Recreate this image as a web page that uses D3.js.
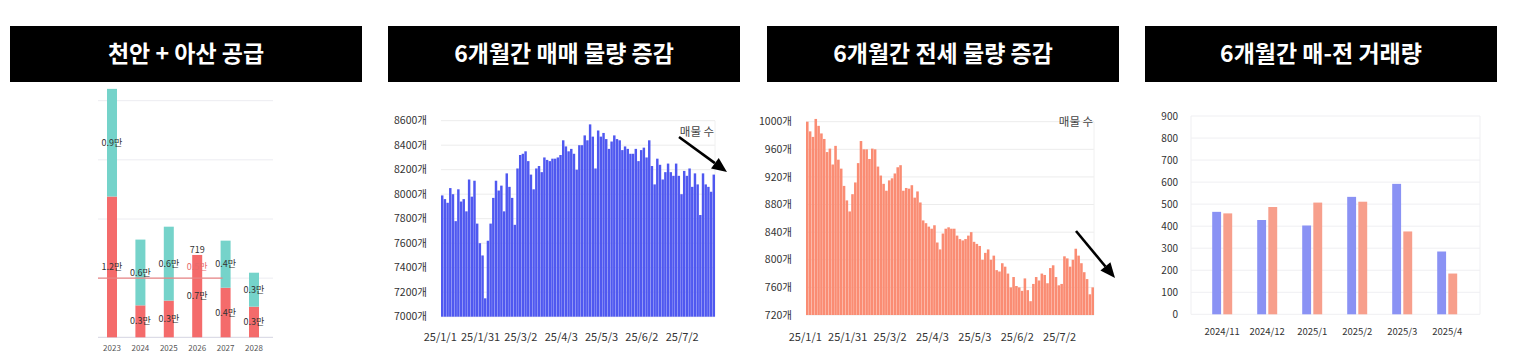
<!DOCTYPE html>
<html><head><meta charset="utf-8">
<script src="https://cdn.jsdelivr.net/npm/d3@7"></script>
<style>body{margin:0;background:#fff}svg{display:block}text{font-family:"Noto Sans CJK KR","Noto Sans",sans-serif}</style>
</head><body><svg id="c" width="1520" height="356"></svg>
<script>
// ---------- DATA ----------
const titles = ["천안 + 아산 공급", "6개월간 매매 물량 증감", "6개월간 전세 물량 증감", "6개월간 매-전 거래량"];

const supplyYears = ["2023", "2024", "2025", "2026", "2027", "2028"];
const supplyRed = [11900, 2700, 3100, 6960, 4190, 2590];
const supplyTeal = [9100, 5560, 6250, 0, 3980, 2870];
const supplyNotes = ["", "", "", "719", "", ""];
const supplyRefLine = 5000;

const dateTickIndex = [0, 15, 30, 45, 60, 75, 90];
const dateTickLabels = ["25/1/1", "25/1/31", "25/3/2", "25/4/3", "25/5/3", "25/6/2", "25/7/2"];
const saleListings = [7990, 7960, 7930, 8050, 8000, 7780, 8040, 7940, 7960, 7860, 8120, 7980, 8110, 7760, 7600, 7500, 7150, 7620, 7760, 7970, 8110, 8030, 8070, 7860, 8170, 8060, 7970, 7750, 8210, 8320, 8330, 8350, 8270, 8160, 8040, 8210, 8230, 8180, 8300, 8280, 8270, 8290, 8290, 8300, 8320, 8440, 8390, 8350, 8370, 8330, 8200,
  8400, 8400, 8480, 8440, 8570, 8470, 8210, 8520, 8470, 8500, 8450, 8370, 8430, 8480, 8450, 8440, 8360, 8390, 8370, 8330, 8330, 8370, 8270, 8360, 8380, 8300, 8440, 8230, 8080, 8290, 8240, 8120, 8180, 8250, 8180, 8150, 8250, 8150, 8000, 8190, 8150, 8210, 8060, 8170, 8080, 7830, 8170, 8080, 8060, 8020, 8160];
const rentListings = [1000, 986, 978, 1004, 994, 983, 975, 956, 961, 938, 965, 945, 932, 907, 886, 870, 895, 912, 940, 972, 960, 960, 946, 961, 960, 935, 922, 910, 900, 915, 918, 925, 934, 937, 900, 904, 903, 908, 890, 899, 883, 857, 853, 848, 845, 850, 825, 815, 838, 845, 847,
  845, 845, 835, 830, 828, 830, 835, 840, 826, 823, 820, 800, 810, 815, 800, 806, 785, 783, 795, 790, 780, 760, 775, 762, 760, 755, 773, 756, 740, 765, 775, 770, 780, 778, 766, 788, 792, 775, 763, 765, 805, 802, 790, 800, 816, 806, 795, 782, 772, 750, 760];
const saleTicks = [7000, 8600, 200];
const rentTicks = [720, 1000, 40];
const annotationText = "매물 수";

const tradeMonths = ["2024/11", "2024/12", "2025/1", "2025/2", "2025/3", "2025/4"];
const tradeSale = [465, 428, 403, 533, 592, 285];
const tradeRent = [458, 487, 507, 511, 376, 185];
const tradeTicks = [0, 900, 100];

// ---------- DRAW ----------
const svg = d3.select("#c");
svg.append("rect").attr("width", 1520).attr("height", 356).attr("fill", "#fff");

const boxes = [[10, 362], [388, 740], [767, 1119], [1145, 1497]];
titles.forEach((t, i) => {
  const [x0, x1] = boxes[i];
  svg.append("rect").attr("x", x0).attr("y", 26).attr("width", x1 - x0).attr("height", 56).attr("fill", "#000");
  svg.append("text").attr("x", (x0 + x1) / 2).attr("y", 54).attr("dy", "0.36em")
    .attr("text-anchor", "middle").attr("fill", "#fff").attr("font-size", 23).attr("font-weight", 700).text(t);
});

const man = v => (v / 10000).toFixed(1) + "만";

// Chart 1: supply stacked bars
{
  const x = d3.scaleBand().domain(supplyYears).range([97.8, 268.2]).paddingInner(0.648).paddingOuter(0.324);
  const y = d3.scaleLinear().domain([0, 20000]).range([337.3, 100.7]);
  const g = svg.append("g");
  g.selectAll(".grid").data(y.ticks(4)).join("line")
    .attr("x1", 98).attr("x2", 273).attr("y1", d => y(d)).attr("y2", d => y(d))
    .attr("stroke", d => d === 0 ? "#d4d4e2" : "#ececf1").attr("stroke-width", 1);
  const rows = supplyYears.map((yr, i) => ({ yr, r: supplyRed[i], t: supplyTeal[i], note: supplyNotes[i] }));
  g.selectAll(".red").data(rows).join("rect")
    .attr("x", d => x(d.yr)).attr("width", x.bandwidth())
    .attr("y", d => y(d.r)).attr("height", d => y(0) - y(d.r)).attr("fill", "#f46b6b");
  g.selectAll(".teal").data(rows.filter(d => d.t > 0)).join("rect")
    .attr("x", d => x(d.yr)).attr("width", x.bandwidth())
    .attr("y", d => y(d.r + d.t)).attr("height", d => y(d.r) - y(d.r + d.t)).attr("fill", "#75d3ca");
  g.append("line").attr("x1", 98).attr("x2", x("2027") + 2)
    .attr("y1", y(supplyRefLine)).attr("y2", y(supplyRefLine))
    .attr("stroke", "#e98585").attr("stroke-width", 1.3);
  const lab = g.append("g").attr("font-size", 9).attr("fill", "#333").attr("text-anchor", "middle");
  lab.selectAll(".rl").data(rows).join("text")
    .attr("x", d => x(d.yr) + x.bandwidth() / 2).attr("y", d => (y(0) + y(d.r)) / 2).attr("dy", "0.35em")
    .text(d => man(d.r));
  lab.selectAll(".tl").data(rows.filter(d => d.t > 0)).join("text")
    .attr("x", d => x(d.yr) + x.bandwidth() / 2).attr("y", d => (y(d.r) + y(d.r + d.t)) / 2).attr("dy", "0.35em")
    .text(d => man(d.t));
  lab.selectAll(".nl").data(rows.filter(d => d.note)).join("text")
    .attr("x", d => x(d.yr) + x.bandwidth() / 2).attr("y", d => y(d.r + d.t) - 4).attr("dy", "0.2em")
    .text(d => d.note);
  lab.append("text").attr("x", x("2026") + x.bandwidth() / 2).attr("y", y(supplyRefLine) - 11).attr("dy", "0.35em")
    .attr("fill", "#e76b6b").text(man(supplyRefLine));
  g.append("g").attr("font-size", 8).attr("fill", "#555").attr("text-anchor", "middle")
    .selectAll("text").data(supplyYears).join("text")
    .attr("x", d => x(d) + x.bandwidth() / 2).attr("y", 347.7).attr("dy", "0.35em").text(d => d);
}

function arrow(g, x1, y1, x2, y2) {
  const a = Math.atan2(y2 - y1, x2 - x1), L = 15, W = 6.5;
  const bx = x2 - L * Math.cos(a), by = y2 - L * Math.sin(a);
  g.append("line").attr("x1", x1).attr("y1", y1).attr("x2", bx).attr("y2", by)
    .attr("stroke", "#000").attr("stroke-width", 2.6);
  const p = [[x2, y2], [bx + W * Math.sin(a), by - W * Math.cos(a)], [bx - W * Math.sin(a), by + W * Math.cos(a)]];
  g.append("polygon").attr("points", p.map(q => q.join(",")).join(" ")).attr("fill", "#000");
}

function drawDaily(o) {
  const g = svg.append("g");
  const x = d3.scaleBand().domain(d3.range(o.values.length)).range(o.xr).paddingInner(0.09);
  const y = d3.scaleLinear().domain([o.ticks[0], o.ticks[1]]).range(o.yr);
  const tv = d3.range(o.ticks[0], o.ticks[1] + 0.001, o.ticks[2]);
  g.selectAll(".grid").data(tv).join("line")
    .attr("x1", o.xr[0]).attr("x2", o.xr[1]).attr("y1", d => y(d)).attr("y2", d => y(d))
    .attr("stroke", "#ececec");
  g.append("line").attr("x1", o.xr[1]).attr("x2", o.xr[1]).attr("y1", y(o.ticks[1])).attr("y2", y(o.ticks[0]))
    .attr("stroke", "#f0f0f0");
  g.selectAll(".bar").data(o.values).join("rect")
    .attr("x", (d, i) => x(i)).attr("width", x.bandwidth())
    .attr("y", d => y(d)).attr("height", d => y(o.ticks[0]) - y(d)).attr("fill", o.color);
  g.append("g").attr("font-size", 10.5).attr("fill", "#333").attr("text-anchor", "end")
    .selectAll("text").data(tv).join("text")
    .attr("x", o.labelRight).attr("y", d => y(d)).attr("dy", "0.35em").text(d => d + "개");
  g.append("g").attr("font-size", 11).attr("fill", "#333").attr("text-anchor", "middle")
    .selectAll("text").data(dateTickIndex).join("text")
    .attr("x", d => x(d) + x.bandwidth() / 2 - 2).attr("y", 337).attr("dy", "0.35em")
    .text((d, i) => dateTickLabels[i]);
  g.append("text").attr("x", o.ann[0]).attr("y", o.ann[1]).attr("dy", "0.35em").attr("text-anchor", "middle")
    .attr("font-size", 11.5).attr("fill", "#444").text(annotationText);
  arrow(g, ...o.arrow);
}

drawDaily({ values: saleListings, ticks: saleTicks, xr: [441, 715], yr: [316.7, 120.7], color: "#4f58f0",
  labelRight: 427, ann: [697, 132], arrow: [679, 137, 727, 172] });
drawDaily({ values: rentListings, ticks: rentTicks, xr: [806, 1094], yr: [315, 121.7], color: "#fa8c73",
  labelRight: 792, ann: [1076, 121.5], arrow: [1076, 231, 1115, 278] });

// Chart 4: grouped bars
{
  const g = svg.append("g");
  const x0 = d3.scaleBand().domain(tradeMonths).range([1199.7, 1469.7]);
  const x1 = d3.scaleBand().domain([0, 1]).range([0, 20]).paddingInner(0.2);
  const off = (x0.bandwidth() - 20) / 2;
  const y = d3.scaleLinear().domain([tradeTicks[0], tradeTicks[1]]).range([314.3, 116]);
  const tv = d3.range(tradeTicks[0], tradeTicks[1] + 1, tradeTicks[2]);
  g.selectAll(".grid").data(tv).join("line")
    .attr("x1", 1191).attr("x2", 1480).attr("y1", d => y(d)).attr("y2", d => y(d)).attr("stroke", "#efeff2");
  [1191, 1480].forEach(xx => g.append("line").attr("x1", xx).attr("x2", xx).attr("y1", y(900)).attr("y2", y(0)).attr("stroke", "#efeff2"));
  const series = [tradeSale, tradeRent], cols = ["#8a92f4", "#f79f8c"];
  series.forEach((s, k) => {
    g.selectAll(".b" + k).data(s).join("rect")
      .attr("x", (d, i) => x0(tradeMonths[i]) + off + x1(k)).attr("width", x1.bandwidth())
      .attr("y", d => y(d)).attr("height", d => y(0) - y(d)).attr("fill", cols[k]);
  });
  g.append("g").attr("font-size", 10).attr("fill", "#333").attr("text-anchor", "end")
    .selectAll("text").data(tv).join("text").attr("x", 1178).attr("y", d => y(d)).attr("dy", "0.35em").text(d => d);
  g.append("g").attr("font-size", 9.5).attr("fill", "#333").attr("text-anchor", "middle")
    .selectAll("text").data(tradeMonths).join("text")
    .attr("x", d => x0(d) + x0.bandwidth() / 2).attr("y", 331.7).attr("dy", "0.35em").text(d => d);
}
</script></body></html>
